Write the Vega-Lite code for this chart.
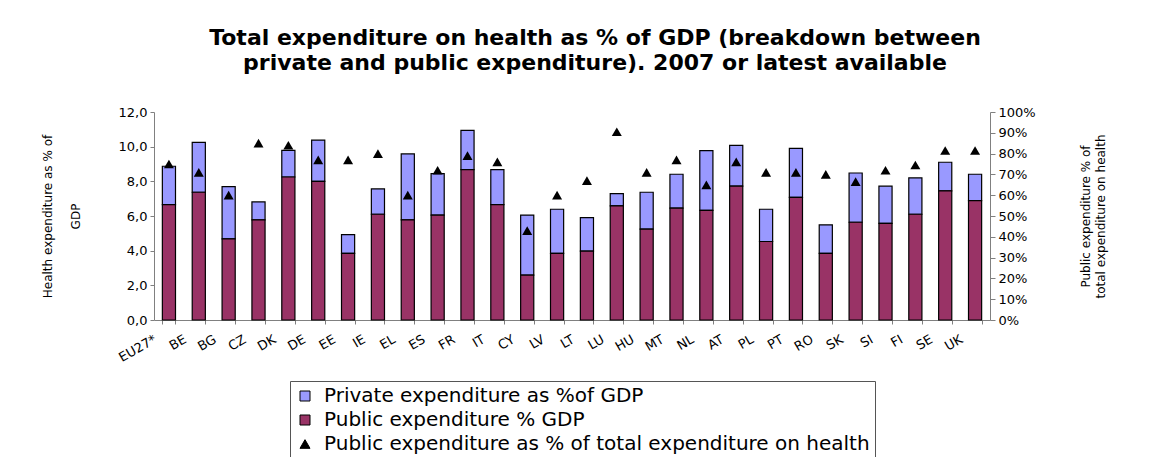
{
  "$schema": "https://vega.github.io/schema/vega-lite/v6.json",
  "width": 836,
  "height": 208,
  "autosize": {"type": "none"},
  "padding": {"left": 154, "top": 112, "right": 172, "bottom": 137},
  "background": "white",
  "config": {
    "locale": {"number": {"decimal": ",", "thousands": ".", "grouping": [3], "currency": ["", " €"]}},
    "view": {"stroke": null},
    "font": "DejaVu Sans"
  },
  "title": {
    "text": ["Total expenditure on health as % of GDP (breakdown between", "private and public expenditure).  2007 or latest available"],
    "font": "DejaVu Sans",
    "fontSize": 22,
    "fontWeight": "bold",
    "color": "black",
    "anchor": "middle",
    "frame": "group",
    "dx": 23,
    "lineHeight": 25,
    "offset": 31
  },
  "data": {
    "values": [
      {"country": "EU27*", "pub": 6.66, "priv": 2.21, "share": 0.75},
      {"country": "BE", "pub": 7.37, "priv": 2.88, "share": 0.71},
      {"country": "BG", "pub": 4.68, "priv": 3.02, "share": 0.60},
      {"country": "CZ", "pub": 5.78, "priv": 1.03, "share": 0.85},
      {"country": "DK", "pub": 8.25, "priv": 1.54, "share": 0.84},
      {"country": "DE", "pub": 8.00, "priv": 2.38, "share": 0.77},
      {"country": "EE", "pub": 3.84, "priv": 1.09, "share": 0.77},
      {"country": "IE", "pub": 6.10, "priv": 1.46, "share": 0.80},
      {"country": "EL", "pub": 5.78, "priv": 3.80, "share": 0.60},
      {"country": "ES", "pub": 6.05, "priv": 2.40, "share": 0.72},
      {"country": "FR", "pub": 8.68, "priv": 2.26, "share": 0.79},
      {"country": "IT", "pub": 6.66, "priv": 2.02, "share": 0.76},
      {"country": "CY", "pub": 2.59, "priv": 3.46, "share": 0.43},
      {"country": "LV", "pub": 3.84, "priv": 2.55, "share": 0.60},
      {"country": "LT", "pub": 3.97, "priv": 1.94, "share": 0.67},
      {"country": "LU", "pub": 6.58, "priv": 0.71, "share": 0.905},
      {"country": "HU", "pub": 5.24, "priv": 2.13, "share": 0.71},
      {"country": "MT", "pub": 6.45, "priv": 1.96, "share": 0.77},
      {"country": "NL", "pub": 6.33, "priv": 3.44, "share": 0.65},
      {"country": "AT", "pub": 7.72, "priv": 2.36, "share": 0.76},
      {"country": "PL", "pub": 4.53, "priv": 1.86, "share": 0.71},
      {"country": "PT", "pub": 7.08, "priv": 2.82, "share": 0.71},
      {"country": "RO", "pub": 3.84, "priv": 1.65, "share": 0.70},
      {"country": "SK", "pub": 5.64, "priv": 2.84, "share": 0.665},
      {"country": "SI", "pub": 5.57, "priv": 2.15, "share": 0.72},
      {"country": "FI", "pub": 6.10, "priv": 2.10, "share": 0.745},
      {"country": "SE", "pub": 7.45, "priv": 1.65, "share": 0.815},
      {"country": "UK", "pub": 6.89, "priv": 1.52, "share": 0.815}
    ]
  },
  "encoding": {
    "x": {
      "field": "country",
      "type": "nominal",
      "sort": null,
      "scale": {"paddingInner": 0.56, "paddingOuter": 0.28},
      "axis": {
        "title": null,
        "labelAngle": -30,
        "labelAlign": "right",
        "labelBaseline": "middle",
        "labelFont": "DejaVu Sans",
        "labelFontSize": 13,
        "labelColor": "black",
        "labelOffset": -14,
        "labelPadding": 14,
        "tickBand": "extent",
        "tickSize": 4,
        "tickColor": "#808080",
        "domainColor": "#808080",
        "labelOverlap": false
      }
    }
  },
  "layer": [
    {
      "transform": [{"fold": ["priv", "pub"], "as": ["series", "value"]}],
      "mark": {"type": "bar", "stroke": "black", "strokeWidth": 1.2},
      "encoding": {
        "y": {
          "field": "value",
          "type": "quantitative",
          "stack": "zero",
          "scale": {"domain": [0, 12], "nice": false},
          "axis": {
            "title": ["Health expenditure as % of", "GDP"],
            "titleFont": "DejaVu Sans",
            "titleFontSize": 12,
            "titleFontWeight": "normal",
            "titleColor": "black",
            "titleLineHeight": 28,
            "titlePadding": 36,
            "values": [0, 2, 4, 6, 8, 10, 12],
            "format": ".1f",
            "grid": false,
            "tickSize": 4,
            "labelPadding": 3,
            "labelFont": "DejaVu Sans",
            "labelFontSize": 13,
            "labelColor": "black",
            "tickColor": "#808080",
            "domainColor": "#808080"
          }
        },
        "color": {
          "field": "series",
          "type": "nominal",
          "scale": {"domain": ["priv", "pub", "share"], "range": ["#9999FF", "#993366", "#000000"]},
          "legend": {
            "orient": "none",
            "legendX": 136,
            "legendY": 269,
            "title": null,
            "labelExpr": "datum.value === 'priv' ? 'Private expenditure as %of GDP' : datum.value === 'pub' ? 'Public expenditure % GDP' : 'Public expenditure as % of total expenditure on health'",
            "labelFont": "DejaVu Sans",
            "labelFontSize": 20,
            "labelColor": "black",
            "labelLimit": 1000,
            "labelOffset": 9,
            "symbolType": "square",
            "symbolSize": 100,
            "symbolStrokeColor": "black",
            "symbolStrokeWidth": 1,
            "symbolOpacity": 1,
            "strokeColor": "#555555",
            "fillColor": "white",
            "padding": 5,
            "rowPadding": 4,
            "encode": {
              "symbols": {"update": {"shape": {"signal": "datum.value === 'share' ? 'triangle-up' : 'square'"}}}
            }
          }
        },
        "order": {"field": "series", "sort": "descending"}
      }
    },
    {
      "mark": {"type": "point", "shape": "triangle-up", "filled": true, "size": 100, "opacity": 1},
      "encoding": {
        "y": {
          "field": "share",
          "type": "quantitative",
          "scale": {"domain": [0, 1], "nice": false},
          "axis": {
            "orient": "right",
            "title": ["Public expenditure % of", "total expenditure on health"],
            "titleFont": "DejaVu Sans",
            "titleFontSize": 12,
            "titleFontWeight": "normal",
            "titleColor": "black",
            "titleAngle": -90,
            "titleBaseline": "top",
            "titleLineHeight": 15,
            "titlePadding": 30,
            "values": [0, 0.1, 0.2, 0.3, 0.4, 0.5, 0.6, 0.7, 0.8, 0.9, 1],
            "format": ".0%",
            "grid": false,
            "tickSize": 5,
            "labelPadding": 3,
            "labelFont": "DejaVu Sans",
            "labelFontSize": 13,
            "labelColor": "black",
            "tickColor": "#808080",
            "domainColor": "#808080"
          }
        },
        "color": {"datum": "share", "type": "nominal", "scale": {"domain": ["priv", "pub", "share"], "range": ["#9999FF", "#993366", "#000000"]}}
      }
    }
  ],
  "resolve": {"scale": {"y": "independent"}}
}
